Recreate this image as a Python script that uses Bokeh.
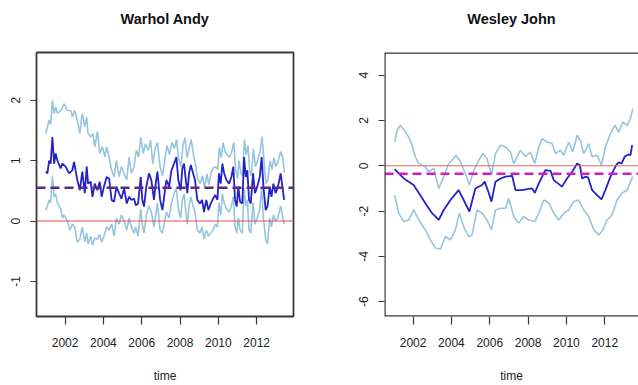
from bokeh.plotting import figure
from bokeh.layouts import row
from bokeh.models import Range1d, Span, FixedTicker, Title
from bokeh.embed import file_html
from bokeh.resources import INLINE

# ---------------- data: Warhol Andy ----------------
wa_title = "Warhol Andy"
wa_main_t = [2000.99, 2001.08, 2001.17, 2001.25, 2001.34, 2001.43, 2001.51, 2001.60, 2001.77, 2001.86,
             2002.03, 2002.21, 2002.38, 2002.47, 2002.64, 2002.77, 2002.90, 2003.03, 2003.13, 2003.20,
             2003.34, 2003.43, 2003.55, 2003.69, 2003.81, 2003.91, 2004.03, 2004.17, 2004.30, 2004.43,
             2004.56, 2004.68, 2004.82, 2004.94, 2005.08, 2005.22, 2005.34, 2005.46, 2005.60, 2005.69,
             2005.81, 2005.95, 2006.03, 2006.12, 2006.24, 2006.38, 2006.50, 2006.64, 2006.73, 2006.82,
             2006.96, 2007.08, 2007.17, 2007.29, 2007.43, 2007.55, 2007.69, 2007.81, 2007.91, 2008.03,
             2008.12, 2008.21, 2008.30, 2008.38, 2008.47, 2008.56, 2008.68, 2008.78, 2008.90, 2009.04,
             2009.15, 2009.25, 2009.37, 2009.48, 2009.60, 2009.72, 2009.84, 2009.95, 2010.03, 2010.12,
             2010.21, 2010.30, 2010.42, 2010.56, 2010.68, 2010.78, 2010.87, 2010.96, 2011.04, 2011.13,
             2011.25, 2011.34, 2011.43, 2011.51, 2011.60, 2011.69, 2011.81, 2011.91, 2012.03, 2012.16,
             2012.26, 2012.35, 2012.47, 2012.56, 2012.68, 2012.77, 2012.87, 2012.99, 2013.11, 2013.25,
             2013.34, 2013.43]
wa_main_v = [0.82, 0.79, 1.00, 0.95, 1.39, 0.95, 1.12, 1.00, 0.87, 0.95,
             0.90, 0.79, 0.84, 0.98, 0.68, 0.51, 0.82, 0.46, 0.90, 0.62,
             0.65, 0.40, 0.62, 0.51, 0.65, 0.40, 0.57, 0.73, 0.70, 0.35,
             0.32, 0.57, 0.46, 0.37, 0.54, 0.29, 0.40, 0.35, 0.37, 0.26,
             0.29, 0.73, 0.35, 0.24, 0.57, 0.79, 0.68, 0.35, 0.62, 0.82,
             0.35, 0.18, 0.40, 0.68, 0.57, 0.84, 0.95, 1.06, 0.68, 0.51,
             0.87, 0.95, 0.68, 0.46, 0.79, 0.93, 0.79, 0.68, 0.35, 0.29,
             0.35, 0.15, 0.35, 0.18, 0.29, 0.37, 0.43, 0.35, 0.79, 0.62,
             0.95, 0.79, 0.68, 0.62, 0.73, 0.90, 0.35, 0.24, 0.57, 0.32,
             0.29, 1.06, 0.73, 0.84, 0.35, 0.29, 0.79, 0.46, 0.57, 0.73,
             1.06, 0.57, 0.18, 0.24, 0.57, 0.40, 0.62, 0.46, 0.57, 0.79,
             0.57, 0.35]
wa_upper_t = [2000.99, 2001.08, 2001.17, 2001.25, 2001.34, 2001.43, 2001.51, 2001.60, 2001.77, 2001.95,
              2002.12, 2002.30, 2002.38, 2002.50, 2002.64, 2002.77, 2002.90, 2003.03, 2003.13, 2003.20,
              2003.34, 2003.45, 2003.55, 2003.69, 2003.81, 2003.95, 2004.08, 2004.17, 2004.30, 2004.43,
              2004.56, 2004.68, 2004.82, 2004.94, 2005.08, 2005.22, 2005.34, 2005.46, 2005.60, 2005.72,
              2005.84, 2005.95, 2006.08, 2006.20, 2006.34, 2006.46, 2006.58, 2006.70, 2006.82, 2006.96,
              2007.08, 2007.20, 2007.32, 2007.45, 2007.58, 2007.70, 2007.82, 2007.92, 2008.05, 2008.15,
              2008.26, 2008.36, 2008.47, 2008.58, 2008.70, 2008.80, 2008.92, 2009.05, 2009.17, 2009.28,
              2009.40, 2009.50, 2009.62, 2009.74, 2009.86, 2009.97, 2010.05, 2010.15, 2010.24, 2010.35,
              2010.46, 2010.58, 2010.70, 2010.80, 2010.90, 2011.00, 2011.08, 2011.17, 2011.27, 2011.36,
              2011.45, 2011.55, 2011.64, 2011.72, 2011.83, 2011.93, 2012.05, 2012.18, 2012.28, 2012.38,
              2012.48, 2012.58, 2012.70, 2012.80, 2012.90, 2013.00, 2013.12, 2013.26, 2013.36, 2013.45]
wa_upper_v = [1.45, 1.56, 1.67, 1.60, 2.00, 1.78, 1.89, 1.78, 1.83, 1.94,
              1.83, 1.83, 1.72, 1.83, 1.67, 1.45, 1.78, 1.56, 1.72, 1.45,
              1.39, 1.45, 1.23, 1.48, 1.12, 1.23, 1.06, 1.23, 1.06, 0.84,
              0.73, 1.00, 0.73, 0.90, 0.79, 0.68, 1.06, 0.79, 0.90, 1.17,
              1.06, 1.39, 1.12, 1.28, 1.17, 1.34, 0.95, 1.20, 1.30, 0.90,
              0.75, 1.00, 1.25, 1.10, 1.30, 1.20, 1.35, 1.05, 0.90, 1.25,
              1.38, 1.05, 1.20, 1.35, 1.10, 0.95, 0.70, 0.62, 0.75, 0.55,
              0.78, 0.60, 0.80, 0.88, 0.90, 0.85, 1.22, 1.05, 1.30, 1.15,
              1.10, 1.05, 1.15, 1.30, 0.85, 0.70, 1.00, 0.80, 0.75, 1.35,
              1.10, 1.25, 0.80, 0.75, 1.20, 0.90, 1.00, 1.15, 1.40, 1.00,
              0.62, 0.68, 1.00, 0.85, 1.05, 0.90, 1.00, 1.15, 1.05, 0.80]
wa_lower_t = [2000.99, 2001.08, 2001.17, 2001.25, 2001.34, 2001.43, 2001.51, 2001.60, 2001.77, 2001.86,
              2001.95, 2002.12, 2002.25, 2002.38, 2002.50, 2002.64, 2002.77, 2002.90, 2003.03, 2003.13,
              2003.20, 2003.34, 2003.43, 2003.55, 2003.69, 2003.81, 2003.91, 2004.03, 2004.17, 2004.30,
              2004.43, 2004.56, 2004.68, 2004.82, 2004.94, 2005.08, 2005.22, 2005.34, 2005.46, 2005.60,
              2005.69, 2005.81, 2005.95, 2006.03, 2006.12, 2006.24, 2006.38, 2006.50, 2006.64, 2006.73,
              2006.82, 2006.96, 2007.08, 2007.17, 2007.29, 2007.43, 2007.55, 2007.69, 2007.81, 2007.91,
              2008.03, 2008.12, 2008.21, 2008.30, 2008.38, 2008.47, 2008.56, 2008.68, 2008.78, 2008.90,
              2009.04, 2009.15, 2009.25, 2009.37, 2009.48, 2009.60, 2009.72, 2009.84, 2009.95, 2010.03,
              2010.12, 2010.21, 2010.30, 2010.42, 2010.56, 2010.68, 2010.78, 2010.87, 2010.96, 2011.04,
              2011.13, 2011.25, 2011.34, 2011.43, 2011.51, 2011.60, 2011.69, 2011.81, 2011.91, 2012.03,
              2012.16, 2012.26, 2012.35, 2012.47, 2012.56, 2012.68, 2012.77, 2012.87, 2012.99, 2013.11,
              2013.25, 2013.34, 2013.43]
wa_lower_v = [0.18, 0.25, 0.35, 0.30, 0.75, 0.40, 0.45, 0.30, 0.20, 0.05,
              0.10, 0.00, -0.15, -0.05, -0.10, -0.35, -0.30, -0.10, -0.35, -0.20,
              -0.38, -0.25, -0.40, -0.28, -0.30, -0.22, -0.35, -0.25, -0.10, -0.15,
              -0.05, -0.25, 0.05, -0.05, 0.10, 0.00, -0.15, 0.05, -0.10, -0.20,
              -0.10, -0.25, 0.20, -0.05, -0.20, 0.10, 0.25, 0.15, -0.10, 0.10,
              0.30, -0.15, -0.20, -0.05, 0.15, 0.05, 0.30, 0.45, 0.55, 0.20,
              0.05, 0.35, 0.45, 0.15, -0.05, 0.25, 0.40, 0.25, 0.15, -0.15,
              -0.20, -0.10, -0.30, -0.15, -0.25, -0.20, -0.15, -0.05, -0.10, 0.30,
              0.10, 0.45, 0.30, 0.20, 0.15, 0.25, 0.40, -0.10, -0.20, 0.05,
              -0.15, -0.20, 0.55, 0.25, 0.35, -0.15, -0.20, 0.30, -0.05, 0.05,
              0.20, 0.55, 0.05, -0.30, -0.38, 0.05, -0.10, 0.10, 0.00, 0.05,
              0.25, 0.10, -0.05]
wa_mean = 0.55
wa_yticks = [-1, 0, 1, 2]

# ---------------- data: Wesley John ----------------
wj_title = "Wesley John"
wj_main_t = [2001.04, 2001.34, 2001.63, 2002.03, 2002.30, 2002.64, 2002.99, 2003.34, 2003.60, 2003.95,
             2004.38, 2004.64, 2004.94, 2005.25, 2005.60, 2005.74, 2005.95, 2006.09, 2006.30, 2006.56,
             2006.82, 2007.17, 2007.34, 2007.69, 2008.03, 2008.21, 2008.35, 2008.56, 2008.90, 2009.17,
             2009.34, 2009.77, 2010.03, 2010.30, 2010.56, 2010.70, 2010.82, 2010.99, 2011.13, 2011.34,
             2011.60, 2011.83, 2012.03, 2012.30, 2012.59, 2012.73, 2012.87, 2013.04, 2013.22, 2013.34,
             2013.43]
wj_main_v = [-0.15, -0.41, -0.63, -0.85, -1.20, -1.65, -2.09, -2.39, -1.95, -1.51,
             -1.07, -1.51, -2.02, -1.00, -0.85, -0.70, -1.20, -1.58, -0.70, -0.56,
             -0.48, -0.44, -1.07, -1.07, -1.02, -1.00, -1.19, -0.78, -0.19, -0.22,
             -0.63, -0.92, -0.56, -0.26, 0.10, 0.03, -0.56, -0.48, -0.51, -1.07,
             -1.29, -1.48, -1.07, -0.48, 0.03, 0.15, 0.10, 0.40, 0.50, 0.47,
             0.91]
wj_upper_t = [2001.04, 2001.17, 2001.34, 2001.60, 2001.77, 2001.95, 2002.12, 2002.30, 2002.47, 2002.64,
              2002.82, 2003.08, 2003.34, 2003.60, 2003.86, 2004.12, 2004.24, 2004.47, 2004.73, 2004.94,
              2005.17, 2005.43, 2005.63, 2005.86, 2006.09, 2006.30, 2006.56, 2006.82, 2007.08, 2007.25,
              2007.43, 2007.60, 2007.86, 2008.12, 2008.35, 2008.56, 2008.73, 2008.99, 2009.25, 2009.43,
              2009.69, 2009.86, 2010.12, 2010.33, 2010.56, 2010.73, 2010.90, 2011.17, 2011.34, 2011.60,
              2011.83, 2012.03, 2012.30, 2012.52, 2012.73, 2012.94, 2013.17, 2013.34, 2013.46]
wj_upper_v = [1.05, 1.57, 1.79, 1.49, 1.27, 0.91, 0.40, 0.10, 0.03, -0.04,
              -0.26, -0.12, -1.00, -0.48, 0.10, 0.32, 0.47, 0.18, -0.34, -0.85,
              -0.19, 0.25, 0.54, 0.32, -0.41, 0.54, 0.91, 0.83, 0.61, 0.10,
              0.40, 0.69, 0.40, 0.61, 0.10, 0.83, 1.20, 1.05, 0.98, 0.54,
              0.69, 0.47, 1.05, 0.61, 1.35, 1.13, 0.54, 0.98, 0.40, 0.47,
              0.03, 0.83, 1.42, 1.79, 1.49, 1.93, 1.79, 2.08, 2.52]
wj_lower_t = [2001.04, 2001.25, 2001.51, 2001.77, 2002.03, 2002.30, 2002.64, 2002.90, 2003.17, 2003.43,
              2003.69, 2003.95, 2004.21, 2004.42, 2004.64, 2004.90, 2005.08, 2005.34, 2005.60, 2005.86,
              2006.09, 2006.30, 2006.56, 2006.82, 2006.99, 2007.25, 2007.51, 2007.77, 2008.03, 2008.35,
              2008.56, 2008.82, 2009.08, 2009.34, 2009.60, 2009.86, 2010.12, 2010.38, 2010.64, 2010.90,
              2011.17, 2011.43, 2011.69, 2011.90, 2012.12, 2012.38, 2012.64, 2012.90, 2013.17, 2013.34,
              2013.46]
wj_lower_v = [-1.29, -2.09, -2.46, -2.39, -1.95, -2.39, -2.83, -3.27, -3.63, -3.67,
              -3.12, -3.27, -2.83, -2.09, -2.68, -3.12, -3.05, -1.95, -2.09, -2.39,
              -2.83, -1.95, -1.87, -1.87, -1.43, -2.24, -2.53, -2.24, -2.39, -2.46,
              -2.09, -1.51, -1.65, -2.09, -2.39, -2.09, -1.95, -1.58, -1.51, -1.95,
              -2.24, -2.83, -3.05, -2.83, -2.39, -2.17, -1.51, -1.20, -1.07, -0.70,
              -0.48]
wj_mean = -0.35
wj_yticks = [-6, -4, -2, 0, 2, 4]

x_ticks = [2002, 2004, 2006, 2008, 2010, 2012]
x_label = "time"

FONT = "Liberation Sans"
BAND = "#97c5df"
MAIN = "#2323c8"
BOX = "#3a3a3a"


def make_panel(title, x_range, y_range, yticks, main_t, main_v, up_t, up_v, lo_t, lo_v,
               mean, mean_color, zero_color, border_left, border_right, outline):
    p = figure(width=319, height=385, x_range=x_range, y_range=y_range,
               output_backend="svg", toolbar_location=None,
               min_border_left=border_left, min_border_right=border_right,
               min_border_top=52, min_border_bottom=68)
    # spacer title (nearest the frame) pushes the real title upward
    p.add_layout(Title(text=" ", text_font_size="1px", standoff=18), "above")
    p.add_layout(Title(text=title, align="center", text_font=FONT, text_font_size="14.5px",
                       text_font_style="bold", text_color="#111111", standoff=10), "above")
    p.xgrid.grid_line_color = None
    p.ygrid.grid_line_color = None
    p.background_fill_color = "white"
    p.border_fill_color = "white"
    if outline:
        p.outline_line_color = BOX
        p.outline_line_width = 1.8
    else:
        p.outline_line_color = None

    for ax in (p.xaxis[0], p.yaxis[0]):
        ax.axis_line_color = None
        ax.major_tick_line_color = BOX
        ax.major_tick_line_width = 1.2
        ax.major_tick_in = 0
        ax.minor_tick_line_color = None
        ax.major_label_text_font = FONT
        ax.major_label_text_font_size = "12px"
        ax.major_label_text_color = "#222222"

    xa = p.xaxis[0]
    xa.ticker = FixedTicker(ticks=x_ticks)
    xa.major_tick_out = 8
    xa.major_label_standoff = 13
    xa.axis_label = x_label
    xa.axis_label_text_font = FONT
    xa.axis_label_text_font_size = "12px"
    xa.axis_label_text_font_style = "normal"
    xa.axis_label_text_color = "#222222"
    xa.axis_label_standoff = 19

    ya = p.yaxis[0]
    ya.ticker = FixedTicker(ticks=yticks)
    ya.major_tick_out = 6
    ya.major_label_standoff = 10
    ya.major_label_orientation = "vertical"
    ya.major_label_overrides = {t: str(t) for t in yticks}

    p.line(up_t, up_v, line_color=BAND, line_width=1.6)
    p.line(lo_t, lo_v, line_color=BAND, line_width=1.6)
    p.line(main_t, main_v, line_color=MAIN, line_width=1.8)

    p.add_layout(Span(location=0, dimension="width", line_color=zero_color, line_width=1.1))
    p.add_layout(Span(location=mean, dimension="width", line_color=mean_color,
                      line_width=2.6, line_dash="9 5"))

    if not outline:
        p.add_layout(Span(location=x_range.start, dimension="height", line_color=BOX, line_width=2.4))
        p.add_layout(Span(location=y_range.start, dimension="width", line_color=BOX, line_width=2.4))
        p.add_layout(Span(location=y_range.end, dimension="width", line_color=BOX, line_width=2.4))
    return p


p1 = make_panel(wa_title, Range1d(2000.51, 2013.92), Range1d(-1.58, 2.79), wa_yticks,
                wa_main_t, wa_main_v, wa_upper_t, wa_upper_v, wa_lower_t, wa_lower_v,
                wa_mean, "#5b2a86", "#ec4f4a", 36, 26, True)
p2 = make_panel(wj_title, Range1d(2000.51, 2013.76), Range1d(-6.65, 5.0), wj_yticks,
                wj_main_t, wj_main_v, wj_upper_t, wj_upper_v, wj_lower_t, wj_lower_v,
                wj_mean, "#cc1fcc", "#d46a6a", 65, 0, False)

layout = row(p1, p2)
open("out.html", "w").write(file_html(layout, INLINE))
